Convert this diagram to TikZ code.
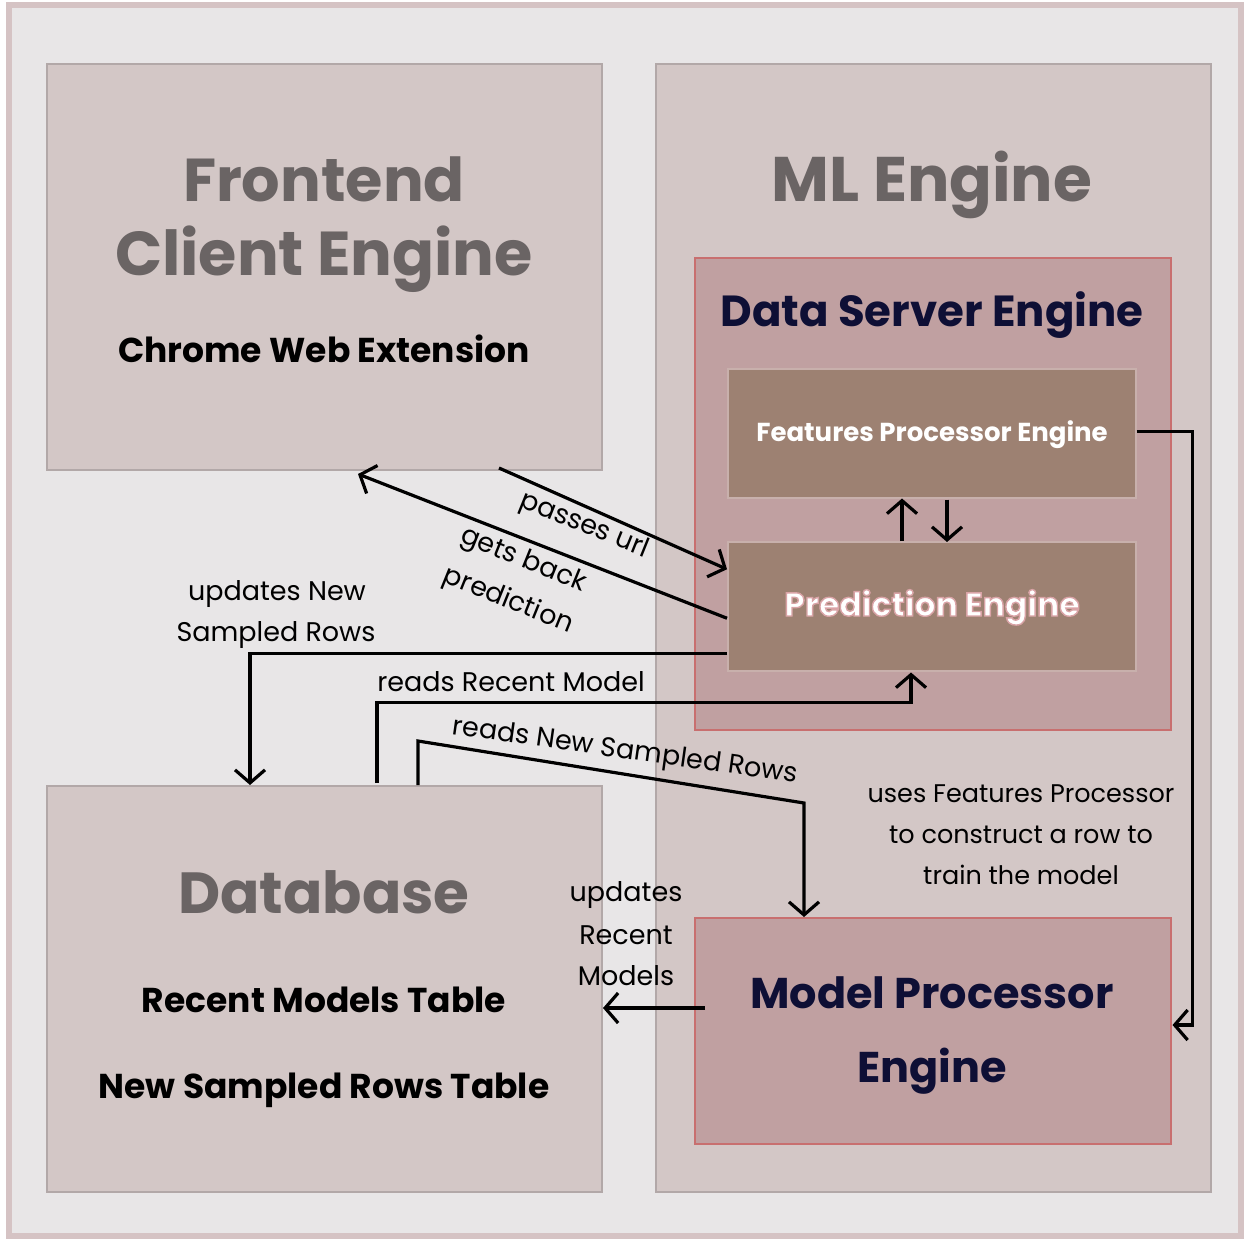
\documentclass[tikz,border=0pt]{standalone}
\usepackage{fontspec}
\setmainfont{Poppins}
\usetikzlibrary{arrows.meta,calc}
\definecolor{bgc}{HTML}{E8E6E7}
\definecolor{framec}{HTML}{D5C3C4}
\definecolor{panelc}{HTML}{D3C7C6}
\definecolor{panelline}{HTML}{B2A8A8}
\definecolor{dsec}{HTML}{C0A0A1}
\definecolor{dseline}{HTML}{C86F6F}
\definecolor{innerc}{HTML}{9D8172}
\definecolor{innerline}{HTML}{C8B0AC}
\definecolor{titlegray}{HTML}{6A6464}
\definecolor{navy}{HTML}{0E0F35}
\newcommand\myfs[1]{\fontsize{#1}{#1}\selectfont}
\newcommand\pinkoutline[1]{\special{pdf:code q 2 Tr 1.4 w 0.85 0.64 0.65 RG}#1\special{pdf:code Q}}
\begin{document}
\begin{tikzpicture}[x=1pt,y=-1pt,
  panel/.style={draw=panelline, fill=panelc, line width=2pt, anchor=north west, inner sep=0},
  dsebox/.style={draw=dseline, fill=dsec, line width=1.5pt, anchor=north west, inner sep=0},
  innerbox/.style={draw=innerline, fill=innerc, line width=1.5pt, anchor=north west, inner sep=0},
  conn/.style={line width=3.2pt, -{Straight Barb[length=13pt,width=30pt]}},
  bigtitle/.style={text=titlegray, anchor=base, inner sep=0},
  subtitle/.style={font=\myfs{34.5}\bfseries, text=black, anchor=base, inner sep=0},
  navytitle/.style={font=\myfs{43.5}\bfseries, text=navy, anchor=base, inner sep=0},
  lbl/.style={font=\myfs{27}, text=black, anchor=base, inner sep=0},
  rlbl/.style={font=\myfs{27}, text=black, anchor=center, inner sep=0},
]
\useasboundingbox (0,0) rectangle (1246,1242);
\fill[white] (0,0) rectangle (1246,1242);
\draw[fill=bgc, draw=framec, line width=6pt] (9,5) rectangle (1241,1236);

% boxes
\node[panel, minimum width=555pt, minimum height=406pt] (fe) at (46,63) {};
\node[panel, minimum width=555pt, minimum height=1128pt] (ml) at (655,63) {};
\node[panel, minimum width=555pt, minimum height=406pt] (db) at (46,785) {};
\node[dsebox, minimum width=476pt, minimum height=472pt] (dse) at (694,257) {};
\node[innerbox, minimum width=408pt, minimum height=129pt] (fp) at (727,368) {};
\node[innerbox, minimum width=408pt, minimum height=129pt] (pe) at (727,541) {};
\node[dsebox, minimum width=476pt, minimum height=226pt] (mp) at (694,917) {};

% titles
\node[bigtitle, font=\myfs{60.5}\bfseries] (fet1) at (324,201) {Frontend};
\node[bigtitle, font=\myfs{62}\bfseries] (fet2) at (324,275) {Client Engine};
\node[subtitle] (fet3) at (324,362) {Chrome Web Extension};
\node[bigtitle, font=\myfs{63}\bfseries] (mlt) at (932,201) {ML Engine};
\node[navytitle] (dset) at (932,326) {Data Server Engine};
\node[font=\myfs{26}\bfseries, text=white, anchor=base, inner sep=0] (fpt) at (932,441) {Features Processor Engine};
\node[font=\myfs{33}\bfseries, text=white, anchor=base, inner sep=0] (pet) at (932,616) {\pinkoutline{Prediction Engine}};
\node[bigtitle, font=\myfs{58}\bfseries] (dbt) at (324,913) {Database};
\node[subtitle] (dbt2) at (324,1012) {Recent Models Table};
\node[subtitle] (dbt3) at (324,1098) {New Sampled Rows Table};
\node[navytitle, font=\myfs{43}\bfseries] (mpt1) at (932,1008) {Model Processor};
\node[navytitle, font=\myfs{43}\bfseries] (mpt2) at (932,1082) {Engine};

% connectors
\draw[conn] ($(fe.south west)+(453,-3)$) -- ($(pe.west)+(0,-37)$);
\draw[conn] ($(pe.west)+(0,12)$) -- ($(fe.south west)+(312,3)$);
\draw[conn] ($(pe.west)+(0,47)$) -| ($(db.north west)+(204,0)$);
\draw[conn] ($(db.north west)+(331,-2)$) |- ($(pe.south west)+(184,31)$) -- ($(pe.south west)+(184,1)$);
\draw[conn] ($(db.north west)+(372,0)$) -- ($(db.north west)+(372,-44)$) -- ($(mp.north west)+(110,-114)$) -- ($(mp.north west)+(110,0)$);
\draw[conn] ($(pe.north west)+(175,0)$) -- ($(fp.south west)+(175,0)$);
\draw[conn] ($(fp.south west)+(220,1)$) -- ($(pe.north west)+(220,1)$);
\draw[conn] ($(fp.east)+(0,-2)$) -- ++(56,0) |- ($(mp.north east)+(1,108)$);
\draw[conn] ($(mp.north west)+(11,91)$) -- ($(db.north east)+(0,223)$);

% labels
\node[rlbl, rotate=-22] (l1) at (584,526) {passes url};
\node[rlbl, rotate=-22] (l2) at (523,561) {gets back};
\node[rlbl, rotate=-22] (l3) at (508,601) {prediction};
\node[lbl] (l4) at (277,600) {updates New};
\node[lbl] (l5) at (276,641) {Sampled Rows};
\node[lbl] (l6) at (511,691) {reads Recent Model};
\node[rlbl, rotate=-8] (l7) at (625,752) {reads New Sampled Rows};
\node[lbl, font=\myfs{25.5}] (l8) at (1021,802) {uses Features Processor};
\node[lbl, font=\myfs{25.5}] (l9) at (1021,843) {to construct a row to};
\node[lbl, font=\myfs{25.5}] (l10) at (1021,884) {train the model};
\node[lbl] (l11) at (626,901) {updates};
\node[lbl] (l12) at (626,944) {Recent};
\node[lbl] (l13) at (626,985) {Models};
\end{tikzpicture}
\end{document}
